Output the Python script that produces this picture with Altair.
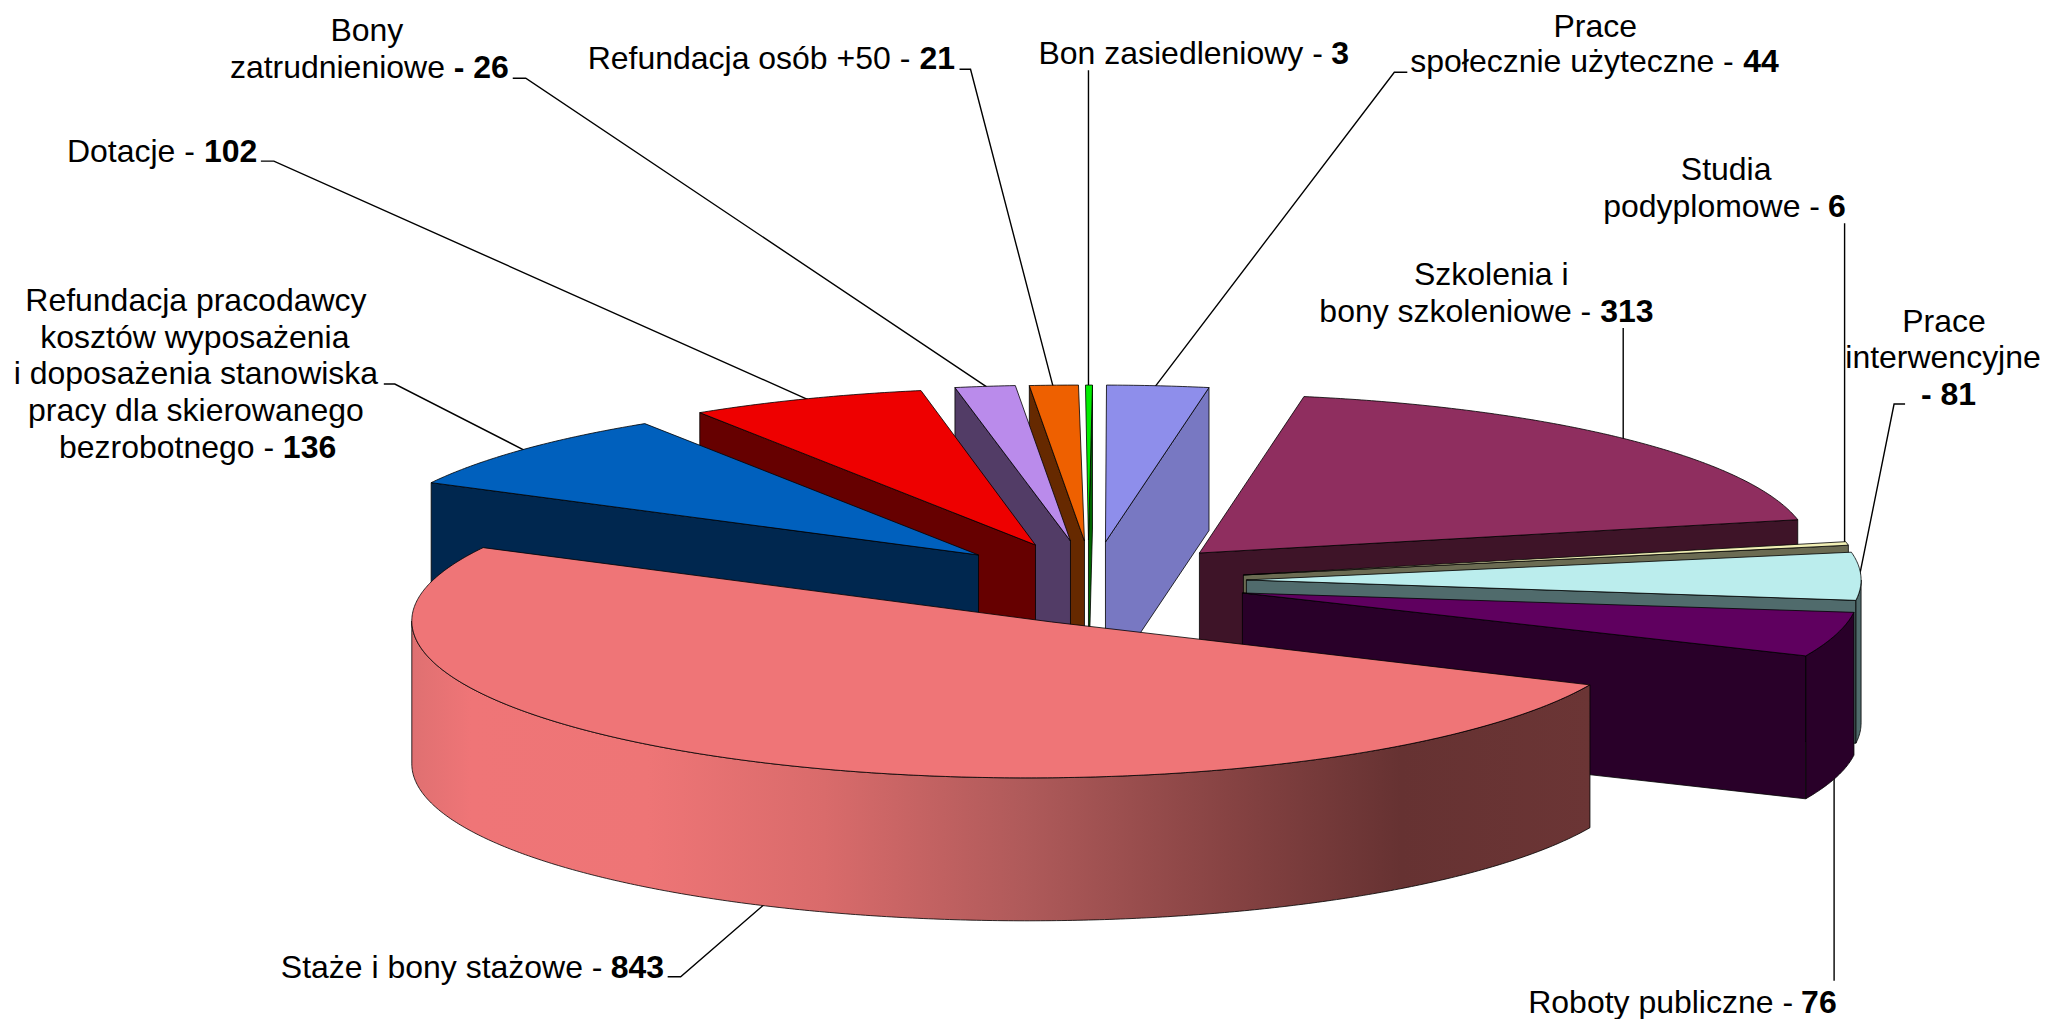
import math
import altair as alt
import pandas as pd

# --- chart values (clockwise from 12 o'clock) ---
names = ["Bon zasiedleniowy", "Prace społecznie użyteczne", "Szkolenia i bony szkoleniowe",
         "Studia podyplomowe", "Prace interwencyjne", "Roboty publiczne", "Staże i bony stażowe",
         "Refundacja pracodawcy", "Dotacje", "Bony zatrudnieniowe", "Refundacja osób +50"]
values = [3, 44, 313, 6, 81, 76, 843, 136, 102, 26, 21]
top_colors = ["#00EE00", "#8E8EEB", "#8F2E5F", "#F2F0B6", "#BBEDED", "#5F005F", "#EF7577",
              "#0060BD", "#EE0000", "#BA8BEB", "#EE6000"]
wall_colors = ["#006600", "#7878C2", "#3E1428", "#6B6B52", "#506B6C", "#290029", "#6A3333",
               "#00274F", "#660000", "#523C66", "#662900"]
# exploded-slice layout (pixels of the 2049x1019 page)
center_x = [1086, 1100, 1195, 1243, 1246, 1244, 1028, 976, 1031, 1065, 1079]
center_y = [542, 542, 551, 573, 580, 592, 621, 556, 545, 542, 542]
apex_x = [1089, 1106, 1200, 1244, 1247, 1243, 1052, 979, 1036, 1071, 1085]
apex_y = [540, 542, 553, 575, 580, 593, 622, 555, 545, 541, 541]
cut_wall = ["end", "end", "end", "end", "end", "end", None, "start", "start", "start", "start"]
rim_wall_from = [None, None, None, None, 90, 97.4, 114, None, None, None, None]
rim_wall_to = [None, None, None, None, 97.4, 114, 270, None, None, None, None]
paint_order = [0, 1, 10, 9, 8, 7, 2, 3, 4, 5, 6]
RX, RY, H = 616, 157, 143

gradient_offsets = [0, 0.05, 0.2, 0.35, 0.52, 0.7, 0.84, 1]
gradient_colors = ["#DF7071", "#EF7577", "#EE7576", "#D96B6B", "#AF5A5A", "#854242", "#663232", "#6B3535"]

# text: (string, x, baseline y, align, weight)
label_text = ["Bony", "zatrudnieniowe", "- 26", "Refundacja osób +50 -", "21", "Dotacje -", "102",
              "Refundacja pracodawcy", "kosztów wyposażenia", "i doposażenia stanowiska",
              "pracy dla skierowanego", "bezrobotnego -", "136", "Bon zasiedleniowy -", "3",
              "Prace", "społecznie użyteczne -", "44", "Studia", "podyplomowe -", "6",
              "Szkolenia i", "bony szkoleniowe -", "313", "Prace", "interwencyjne", "- 81",
              "Staże i bony stażowe -", "843", "Roboty publiczne -", "76"]
label_x = [367, 230, 454, 588, 920, 67, 204, 196, 195, 196, 196, 59, 283, 1039, 1332,
           1596, 1411, 1744, 1727, 1604, 1829, 1492, 1320, 1601, 1945, 1944, 1922,
           281, 611, 1529, 1802]
label_y = [41, 78, 78, 69, 69, 162, 162, 311, 348, 384, 421, 458, 458, 64, 64,
           37, 72, 72, 180, 217, 217, 285, 322, 322, 332, 368, 405, 978, 978, 1013, 1013]
label_align = ["center", "left", "left", "left", "left", "left", "left", "center", "center", "center",
               "center", "left", "left", "left", "left", "center", "left", "left", "center", "left",
               "left", "center", "left", "left", "center", "center", "left", "left", "left", "left", "left"]
label_bold = [0, 0, 1, 0, 1, 0, 1, 0, 0, 0, 0, 0, 1, 0, 1, 0, 0, 1, 0, 0, 1, 0, 0, 1, 0, 0, 1, 0, 1, 0, 1]

leader_x = [[513, 526, 992], [960, 971, 1054], [261, 274, 814], [384, 395, 534], [1089, 1089],
            [1408, 1395, 1153], [1845.5, 1845.5], [1624, 1624], [1906, 1895, 1860.4],
            [668, 681, 770], [1835, 1835]]
leader_y = [[78, 78, 390], [69, 69, 388], [161, 161, 402], [384, 384, 455], [70, 390],
            [72, 72, 390], [223, 546], [328, 445], [404, 404, 576],
            [977, 977, 900], [981, 770]]

FONT = "Liberation Sans"
x_enc = alt.X("x:Q", axis=None, scale=alt.Scale(domain=[8, 2041], nice=False, zero=False))
y_enc = alt.Y("y:Q", axis=None, scale=alt.Scale(domain=[1011, 8], nice=False, zero=False))


def shape(xs, ys, fill, stroke="#000000", width=0.8):
    df = pd.DataFrame({"x": xs, "y": ys, "i": range(len(xs))})
    return alt.Chart(df).mark_line(fill=fill, stroke=stroke, strokeWidth=width, strokeJoin="round").encode(
        x=x_enc, y=y_enc, order=alt.Order("i:Q"))


total = sum(values)
start = [sum(values[:k]) / total * 360 for k in range(len(values))]
end = [sum(values[:k + 1]) / total * 360 for k in range(len(values))]


def rim(k, a, b):
    n = max(2, int(abs(b - a)) * 2 + 2)
    ts = [a + (b - a) * j / (n - 1) for j in range(n)]
    return ([center_x[k] + RX * math.sin(math.radians(t)) for t in ts],
            [center_y[k] - RY * math.cos(math.radians(t)) for t in ts])


layers = []
for lx, ly in zip(leader_x, leader_y):
    df = pd.DataFrame({"x": lx, "y": ly, "i": range(len(lx))})
    layers.append(alt.Chart(df).mark_line(color="#000000", strokeWidth=1.4).encode(
        x=x_enc, y=y_enc, order=alt.Order("i:Q")))

for k in paint_order:
    if cut_wall[k]:
        t = start[k] if cut_wall[k] == "start" else end[k]
        rx, ry = rim(k, t, t)
        layers.append(shape([apex_x[k], rx[0], rx[0], apex_x[k], apex_x[k]],
                            [apex_y[k], ry[0], ry[0] + H, apex_y[k] + H, apex_y[k]], wall_colors[k]))
    if rim_wall_from[k] is not None:
        rx, ry = rim(k, rim_wall_from[k], rim_wall_to[k])
        wx = rx + rx[::-1] + rx[:1]
        wy = ry + [v + H for v in ry[::-1]] + ry[:1]
        fill = wall_colors[k]
        if names[k].startswith("Staże"):
            fill = alt.Gradient(gradient="linear", x1=0, x2=1, y1=0, y2=0,
                                stops=[alt.GradientStop(offset=o, color=c)
                                       for o, c in zip(gradient_offsets, gradient_colors)])
        layers.append(shape(wx, wy, fill))
    rx, ry = rim(k, start[k], end[k])
    layers.append(shape([apex_x[k]] + rx + [apex_x[k]], [apex_y[k]] + ry + [apex_y[k]], top_colors[k]))

labels = pd.DataFrame({"x": label_x, "y": label_y, "t": label_text, "a": label_align, "b": label_bold})
for align in ["left", "center"]:
    for bold in [0, 1]:
        sub = labels[(labels.a == align) & (labels.b == bold)]
        if len(sub) == 0:
            continue
        layers.append(alt.Chart(sub).mark_text(
            align=align, baseline="alphabetic", font=FONT, fontSize=32, color="#000000",
            fontWeight="bold" if bold else "normal").encode(x=x_enc, y=y_enc, text="t:N"))

chart = alt.layer(*layers).properties(width=2033, height=1003, padding=0).configure_view(stroke=None)
chart.save("out.html", embed_options={"renderer": "svg", "actions": False})
